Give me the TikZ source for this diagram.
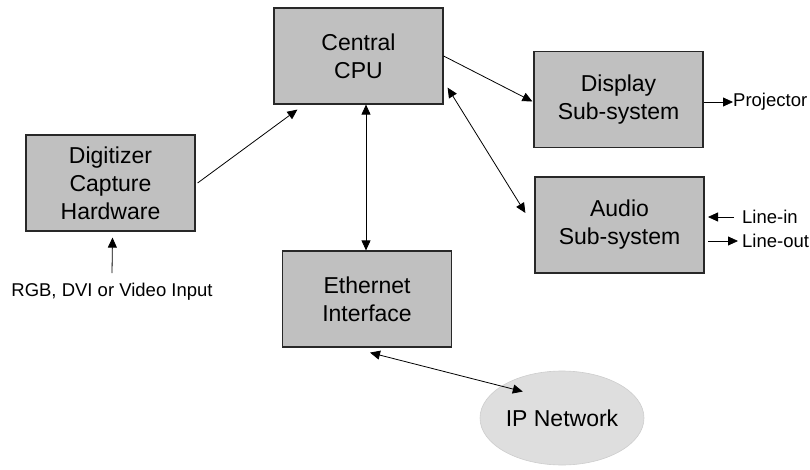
\documentclass[tikz,border=0pt]{standalone}
\usepackage{fontspec}
\setmainfont{Liberation Sans}
\usetikzlibrary{arrows.meta,calc,shapes.geometric}

\definecolor{boxfill}{RGB}{192,192,192}
\definecolor{boxedge}{RGB}{40,40,40}
\definecolor{cloudfill}{RGB}{222,222,222}
\definecolor{cloudedge}{RGB}{205,205,205}

\tikzset{
  block/.style={draw=boxedge, line width=1.2pt, fill=boxfill,
    minimum width=169pt, minimum height=96pt, inner sep=0pt,
    align=center, font=\fontsize{23}{28}\selectfont},
  cloud/.style={ellipse, fill=cloudfill, draw=cloudedge, line width=0.6pt,
    minimum width=164pt, minimum height=94pt, inner sep=0pt,
    font=\fontsize{23}{28}\selectfont},
  lbl/.style={inner sep=0pt, font=\fontsize{18.5}{22}\selectfont},
  tipA/.tip={Triangle[length=10pt,width=9pt]},
  arr/.style={line width=0.8pt, -tipA},
  darr/.style={line width=0.8pt, tipA-tipA},
}

\begin{document}
\begin{tikzpicture}[x=1pt,y=-1pt]
  \useasboundingbox (0,0) rectangle (810,470);

  % main blocks
  \node[block] (cpu)   at (358.5,56)  {Central\\CPU};
  \node[block] (disp)  at (618.5,99.5){Display\\Sub-system};
  \node[block] (audio) at (619.5,225) {Audio\\Sub-system};
  \node[block] (dig)   at (110.5,183) {Digitizer\\Capture\\Hardware};
  \node[block] (eth)   at (367,299)   {Ethernet\\Interface};
  \node[cloud] (ip)    at (562,418)   {IP Network};

  % external labels
  \node[lbl, anchor=west] (proj)  at (733,102) {Projector};
  \node[lbl, anchor=west] (lin)   at (742,217) {Line-in};
  \node[lbl, anchor=west] (lout)  at (742,241) {Line-out};
  \node[lbl] (rgb) at (112,292) {RGB, DVI or Video Input};

  % connector end points
  \coordinate (cpuIn)   at ($(cpu.south west)+(24,5)$);
  \coordinate (cpuOut)  at ($(cpu.east)+(0,0)$);
  \coordinate (cpuAud)  at ($(cpu.south east)+(4,-17)$);
  \coordinate (audIn)   at ($(audio.west)+(-9,-12)$);
  \coordinate (dispIn)  at ($(disp.west)+(-1,2)$);
  \coordinate (ethTop)  at ($(eth.north)+(-1,0)$);
  \coordinate (ethBot)  at ($(eth.south)+(3,5)$);
  \coordinate (ipIn)    at ($(ip.north west)+(19,7)$);
  \coordinate (projOut) at ($(disp.east)+(0,2.5)$);
  \coordinate (linA)    at ($(lin.west)+(-8,0)$);
  \coordinate (linB)    at ($(lin.west)+(-34,0)$);
  \coordinate (loutA)   at ($(lout.west)+(-34,0)$);
  \coordinate (loutB)   at ($(lout.west)+(-4,0)$);
  \coordinate (rgbA)    at ($(rgb.north)+(0,-10)$);
  \coordinate (digIn)   at ($(dig.south)+(2,6)$);

  % connectors
  \draw[arr]  ($(dig.east)+(2,0)$) -- (cpuIn);
  \draw[arr]  (cpuOut) -- (dispIn);
  \draw[darr] (cpuAud) -- (audIn);
  \draw[darr] (cpu.south -| ethTop) -- (ethTop);
  \draw[darr] (ethBot) -- (ipIn);
  \draw[arr]  (projOut) -- (proj.west);
  \draw[arr]  (linA) -- (linB);
  \draw[arr]  (loutA) -- (loutB);
  \draw[arr]  (rgbA) -- (digIn);
\end{tikzpicture}
\end{document}
